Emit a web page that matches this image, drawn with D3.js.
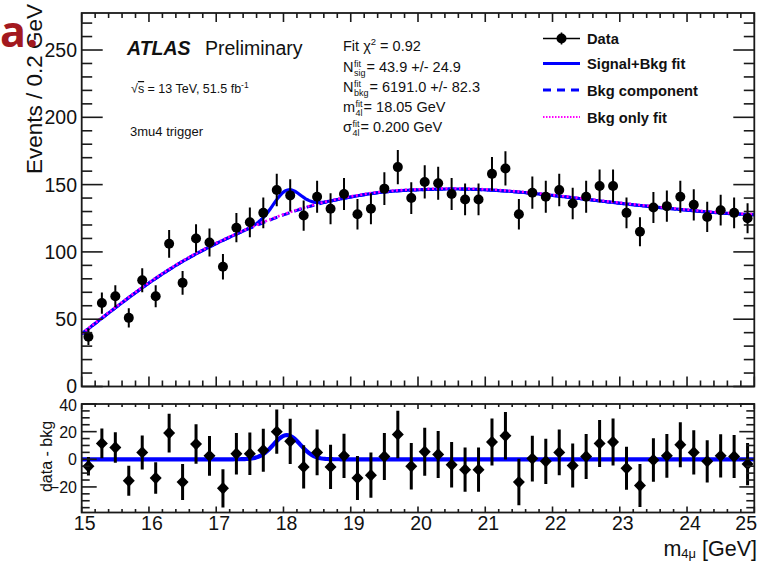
<!DOCTYPE html>
<html>
<head>
<meta charset="utf-8">
<script src="https://cdn.jsdelivr.net/npm/d3@7"></script>
<style>
  body { margin: 0; background: #fff; }
  svg { display: block; }
  text { font-family: "Liberation Sans", Arial, Helvetica, sans-serif; fill: #111; }
</style>
</head>
<body>
<svg id="chart" width="771" height="563"></svg>
<script>
// ---- data: 4-muon invariant mass, 0.2 GeV bins ----
const binCenters = [15.1, 15.3, 15.5, 15.7, 15.9, 16.1, 16.3, 16.5, 16.7, 16.9,
                    17.1, 17.3, 17.5, 17.7, 17.9, 18.1, 18.3, 18.5, 18.7, 18.9,
                    19.1, 19.3, 19.5, 19.7, 19.9, 20.1, 20.3, 20.5, 20.7, 20.9,
                    21.1, 21.3, 21.5, 21.7, 21.9, 22.1, 22.3, 22.5, 22.7, 22.9,
                    23.1, 23.3, 23.5, 23.7, 23.9, 24.1, 24.3, 24.5, 24.7, 24.9];
const counts = [37, 62, 67, 51, 79, 67, 106, 77, 110, 107,
                89, 118, 122, 129, 146, 142, 127, 141, 132, 143,
                128, 132, 147, 163, 140, 152, 151, 143, 139, 139,
                158, 162, 128, 144, 141, 146, 136, 141, 149, 149,
                129, 115, 133, 134, 141, 135, 126, 131, 129, 125];
// data minus background-component, with its uncertainty
const residuals = [-5, 11.5, 8.5, -15.5, 5, -13.5, 19, -16.5, 11, 2.5,
                   -21, 4, 4, 6.5, 20, 13, -5.5, 5, -5.5, 2.5,
                   -13.5, -11.5, 2, 18, -5, 5.5, 3.5, -4, -7.5, -7.5,
                   12.5, 17, -16.5, 0.5, -1.5, 5, -4.5, 2, 11.5, 12.5,
                   -6.5, -19, -0.5, 2.5, 10.5, 5, -1.5, 2.5, 2, -3.5];
const residErrors = [6.7, 10.8, 11, 10.8, 12.3, 11.4, 14, 13, 14.3, 14.4,
                     13.8, 15, 15.4, 15.6, 16, 16.4, 15.6, 16.6, 16, 16,
                     15.9, 16.4, 17, 17.2, 16.8, 17.4, 17, 16.5, 16, 16,
                     17, 17.2, 16.8, 16.5, 16.3, 16.5, 16, 16.3, 17, 17,
                     15.5, 15.6, 15.8, 15.8, 16.3, 16, 15.3, 15.6, 15.5, 15.3];
// background fit function, sampled every 0.5 GeV
const bkgKnotMass = [15, 15.5, 16, 16.5, 17, 17.5, 18, 18.5, 19, 19.5, 20,
                     20.5, 21, 21.5, 22, 22.5, 23, 23.5, 24, 24.5, 25];
const bkgKnotValues = [39, 58.6, 77.3, 93.4, 106.5, 117.8, 127.8, 135.8, 141, 145, 146.2,
                       147, 146.3, 144.6, 142, 139.1, 136.1, 133.4, 131, 128.7, 127.6];
// fitted signal parameters
const fitNsig = 43.9, fitNsigErr = 24.9;
const fitNbkg = 6191.0, fitNbkgErr = 82.3;
const fitMass = 18.05, fitSigma = 0.200, fitChi2 = 0.92;
const binWidth = 0.2;
// axis ticks
const xTickValues = [15, 16, 17, 18, 19, 20, 21, 22, 23, 24, 25];
const xTickLabels = ["15", "16", "17", "18", "19", "20", "21", "22", "23", "24", "25"];
const yTickValues = [0, 50, 100, 150, 200, 250];
const yTickLabels = ["0", "50", "100", "150", "200", "250"];
const rTickValues = [-20, 0, 20, 40];
const rTickLabels = ["\u221220", "0", "20", "40"];
const legendLabels = ["Data", "Signal+Bkg fit", "Bkg component", "Bkg only fit"];

// ---- layout ----
const svg = d3.select("#chart");
const L = 81.7, R = 754.3;
const topPanel = { top: 13, bottom: 386.5 };
const botPanel = { top: 404, bottom: 512.5 };
const x = d3.scaleLinear().domain([15, 25]).range([L, R]);
const y = d3.scaleLinear().domain([0, 277.5]).range([topPanel.bottom, topPanel.top]);
const yr = d3.scaleLinear().domain([-38.5, 40]).range([botPanel.bottom, botPanel.top]);
const ink = "#1a1a1a";
const blue = "#0000ff", magenta = "#ff00ff";

// fit functions
const bkgInterp = d3.interpolateBasis(bkgKnotValues);
const bkgAt = m => bkgInterp((m - 15) / 10);
const sigAt = m => fitNsig * binWidth / (fitSigma * Math.sqrt(2 * Math.PI)) *
                   Math.exp(-0.5 * Math.pow((m - fitMass) / fitSigma, 2));
const grid = d3.range(0, 401).map(i => 15 + i * 10 / 400);

// ---- upper panel ----
svg.append("clipPath").attr("id", "clipTop").append("rect")
  .attr("x", L).attr("y", topPanel.top).attr("width", R - L).attr("height", topPanel.bottom - topPanel.top);
const gTop = svg.append("g").attr("clip-path", "url(#clipTop)");
const line = d3.line().x(d => x(d[0])).y(d => y(d[1]));

// background component (dashed) and signal+background (solid)
gTop.append("path").datum(grid.map(m => [m, bkgAt(m)])).attr("d", line)
  .attr("fill", "none").attr("stroke", blue).attr("stroke-width", 3).attr("stroke-dasharray", "8,5");
gTop.append("path").datum(grid.map(m => [m, bkgAt(m) + sigAt(m)])).attr("d", line)
  .attr("fill", "none").attr("stroke", blue).attr("stroke-width", 3.2);
// background-only fit (dotted)
gTop.append("path").datum(grid.map(m => [m, bkgAt(m) + 0.4])).attr("d", line)
  .attr("fill", "none").attr("stroke", magenta).attr("stroke-width", 2.6).attr("stroke-dasharray", "2,2.5");

// data points with Poisson errors
const pts = binCenters.map((m, i) => ({ m, v: counts[i], e: Math.sqrt(counts[i]) }));
gTop.selectAll("line.err").data(pts).join("line").attr("class", "err")
  .attr("x1", d => x(d.m)).attr("x2", d => x(d.m))
  .attr("y1", d => y(d.v - d.e)).attr("y2", d => y(d.v + d.e))
  .attr("stroke", "#000").attr("stroke-width", 2);
gTop.selectAll("circle.pt").data(pts).join("circle").attr("class", "pt")
  .attr("cx", d => x(d.m)).attr("cy", d => y(d.v)).attr("r", 5).attr("fill", "#000");

// ---- lower panel ----
svg.append("clipPath").attr("id", "clipBot").append("rect")
  .attr("x", L).attr("y", botPanel.top).attr("width", R - L).attr("height", botPanel.bottom - botPanel.top);
const gBot = svg.append("g").attr("clip-path", "url(#clipBot)");
const lineR = d3.line().x(d => x(d[0])).y(d => yr(d[1]));
gBot.append("path").datum(grid.map(m => [m, sigAt(m)])).attr("d", lineR)
  .attr("fill", "none").attr("stroke", blue).attr("stroke-width", 4.2);
const rpts = binCenters.map((m, i) => ({ m, v: residuals[i], e: residErrors[i] }));
gBot.selectAll("line.err").data(rpts).join("line").attr("class", "err")
  .attr("x1", d => x(d.m)).attr("x2", d => x(d.m))
  .attr("y1", d => yr(d.v - d.e)).attr("y2", d => yr(d.v + d.e))
  .attr("stroke", "#000").attr("stroke-width", 3);
gBot.selectAll("path.pt").data(rpts).join("path").attr("class", "pt")
  .attr("transform", d => `translate(${x(d.m)},${yr(d.v)})`)
  .attr("d", "M0,-6.2L6,0L0,6.2L-6,0Z").attr("fill", "#000");

// ---- frames and ticks ----
function frame(p) {
  svg.append("rect").attr("x", L).attr("y", p.top).attr("width", R - L).attr("height", p.bottom - p.top)
    .attr("fill", "none").attr("stroke", ink).attr("stroke-width", 1.8);
}
frame(topPanel); frame(botPanel);

function tick(x1, y1, x2, y2, w) {
  svg.append("line").attr("x1", x1).attr("y1", y1).attr("x2", x2).attr("y2", y2)
    .attr("stroke", ink).attr("stroke-width", w);
}
function xTicks(p, majTop, minTop, majBot, minBot) {
  d3.range(0, 51).forEach(i => {
    const m = 15 + i * 0.2, px = x(m), major = i % 5 === 0;
    tick(px, p.bottom, px, p.bottom - (major ? majBot : minBot), 1.6);
    tick(px, p.top, px, p.top + (major ? majTop : minTop), 1.6);
  });
}
xTicks(topPanel, 9, 5, 10, 6);
xTicks(botPanel, 5, 3, 6, 3.5);

// upper y ticks: major every 50, minor every 10
d3.range(0, 278, 10).forEach(v => {
  const major = v % 50 === 0, len = major ? 21 : 10.5;
  tick(L, y(v), L + len, y(v), 1.6);
  tick(R, y(v), R - len, y(v), 1.6);
});
// lower y ticks: major every 20, minor every 5
d3.range(-35, 41, 5).forEach(v => {
  const major = v % 20 === 0, len = major ? 15 : 8;
  tick(L, yr(v), L + len, yr(v), 1.6);
  tick(R, yr(v), R - len, yr(v), 1.6);
});

// ---- tick labels ----
yTickValues.forEach((v, i) => {
  svg.append("text").attr("x", 77).attr("y", y(v) + (v === 0 ? 6 : 7)).attr("text-anchor", "end")
    .style("font-size", "19.5px").text(yTickLabels[i]);
});
rTickValues.forEach((v, i) => {
  svg.append("text").attr("x", 77).attr("y", yr(v) + (v === 40 ? 7 : 6)).attr("text-anchor", "end")
    .style("font-size", "16px").text(rTickLabels[i]);
});
xTickValues.forEach((v, i) => {
  const t = svg.append("text").attr("y", 530).attr("text-anchor", "middle")
    .style("font-size", "19.5px").text(xTickLabels[i]);
  const w = t.node().getComputedTextLength();
  t.attr("x", Math.min(x(v) + 3, 757 - w / 2));
});

// ---- axis titles ----
svg.append("text").attr("transform", "translate(41.5,4) rotate(-90)").attr("text-anchor", "end")
  .style("font-size", "22.5px").text("Events / 0.2 GeV");
svg.append("text").attr("transform", "translate(51.5,456.5) rotate(-90)").attr("text-anchor", "middle")
  .style("font-size", "16px").text("data - bkg");
const xt = svg.append("text").attr("x", 757).attr("y", 555.5).attr("text-anchor", "end").style("font-size", "21.5px");
xt.append("tspan").text("m");
xt.append("tspan").attr("dy", 2).style("font-size", "13px").text("4\u03bc");
xt.append("tspan").attr("dy", -2).text(" [GeV]");

// ---- ATLAS label ----
svg.append("text").attr("x", 127).attr("y", 55).style("font-size", "19.5px")
  .style("font-weight", "bold").style("font-style", "italic").text("ATLAS");
svg.append("text").attr("x", 205).attr("y", 55).style("font-size", "19.5px").text("Preliminary");
const lum = svg.append("text").attr("x", 131).attr("y", 93).style("font-size", "12.5px");
lum.append("tspan").text("\u221a");
lum.append("tspan").style("text-decoration", "overline").text("s");
lum.append("tspan").text(" = 13 TeV, 51.5 fb");
lum.append("tspan").attr("dy", -5).style("font-size", "8.5px").text("-1");
svg.append("text").attr("x", 130).attr("y", 136).style("font-size", "13px").text("3mu4 trigger");

// ---- fit summary ----
const fx = 343, fs = 14.5;
const c2 = svg.append("text").attr("x", fx).attr("y", 50.5).style("font-size", fs + "px");
c2.append("tspan").text("Fit \u03c7");
c2.append("tspan").attr("dy", -6).style("font-size", "9.5px").text("2");
c2.append("tspan").attr("dy", 6).text(" = " + fitChi2.toFixed(2));

function fitLine(yb, base, sup, sub, rest) {
  const b = svg.append("text").attr("x", fx).attr("y", yb).style("font-size", fs + "px").text(base);
  const wb = b.node().getComputedTextLength();
  const s1 = svg.append("text").attr("x", fx + wb + 0.5).attr("y", yb - 4.5).style("font-size", "9px").text(sup);
  const s2 = svg.append("text").attr("x", fx + wb + 0.5).attr("y", yb + 4.5).style("font-size", "9px").text(sub);
  const ws = Math.max(s1.node().getComputedTextLength(), s2.node().getComputedTextLength());
  svg.append("text").attr("x", fx + wb + ws + 1.5).attr("y", yb).style("font-size", fs + "px").text(rest);
}
fitLine(71.5, "N", "fit", "sig", "= " + fitNsig.toFixed(1) + " +/- " + fitNsigErr.toFixed(1));
fitLine(91.5, "N", "fit", "bkg", "= " + fitNbkg.toFixed(1) + " +/- " + fitNbkgErr.toFixed(1));
fitLine(111.5, "m", "fit", "4l", "= " + fitMass.toFixed(2) + " GeV");
fitLine(131.5, "\u03c3", "fit", "4l", "= " + fitSigma.toFixed(3) + " GeV");

// ---- legend ----
const lgX1 = 543, lgX2 = 580, lgTx = 587;
const lgY = [38.5, 63.5, 90, 117];
const lg = svg.append("g");
lg.append("line").attr("x1", lgX1).attr("x2", lgX2).attr("y1", lgY[0]).attr("y2", lgY[0])
  .attr("stroke", "#000").attr("stroke-width", 1.6);
lg.append("line").attr("x1", (lgX1 + lgX2) / 2).attr("x2", (lgX1 + lgX2) / 2)
  .attr("y1", lgY[0] - 6).attr("y2", lgY[0] + 6).attr("stroke", "#000").attr("stroke-width", 1.6);
lg.append("circle").attr("cx", (lgX1 + lgX2) / 2).attr("cy", lgY[0]).attr("r", 5).attr("fill", "#000");
lg.append("line").attr("x1", lgX1).attr("x2", lgX2).attr("y1", lgY[1]).attr("y2", lgY[1])
  .attr("stroke", blue).attr("stroke-width", 3.2);
lg.append("line").attr("x1", lgX1).attr("x2", lgX2).attr("y1", lgY[2]).attr("y2", lgY[2])
  .attr("stroke", blue).attr("stroke-width", 3.2).attr("stroke-dasharray", "8,6");
lg.append("line").attr("x1", lgX1).attr("x2", lgX2).attr("y1", lgY[3]).attr("y2", lgY[3])
  .attr("stroke", magenta).attr("stroke-width", 2).attr("stroke-dasharray", "1.5,1.5");
legendLabels.forEach((t, i) => {
  lg.append("text").attr("x", lgTx).attr("y", lgY[i] + 5.5).style("font-size", "14.7px")
    .style("font-weight", "bold").text(t);
});

// ---- panel tag ----
svg.append("text").attr("x", 0).attr("y", 47)
  .style("font-family", "'Open Sans', 'Liberation Sans', sans-serif")
  .style("font-size", "43px").style("font-weight", "bold").style("fill", "#a3191f").text("a.");
</script>
</body>
</html>
